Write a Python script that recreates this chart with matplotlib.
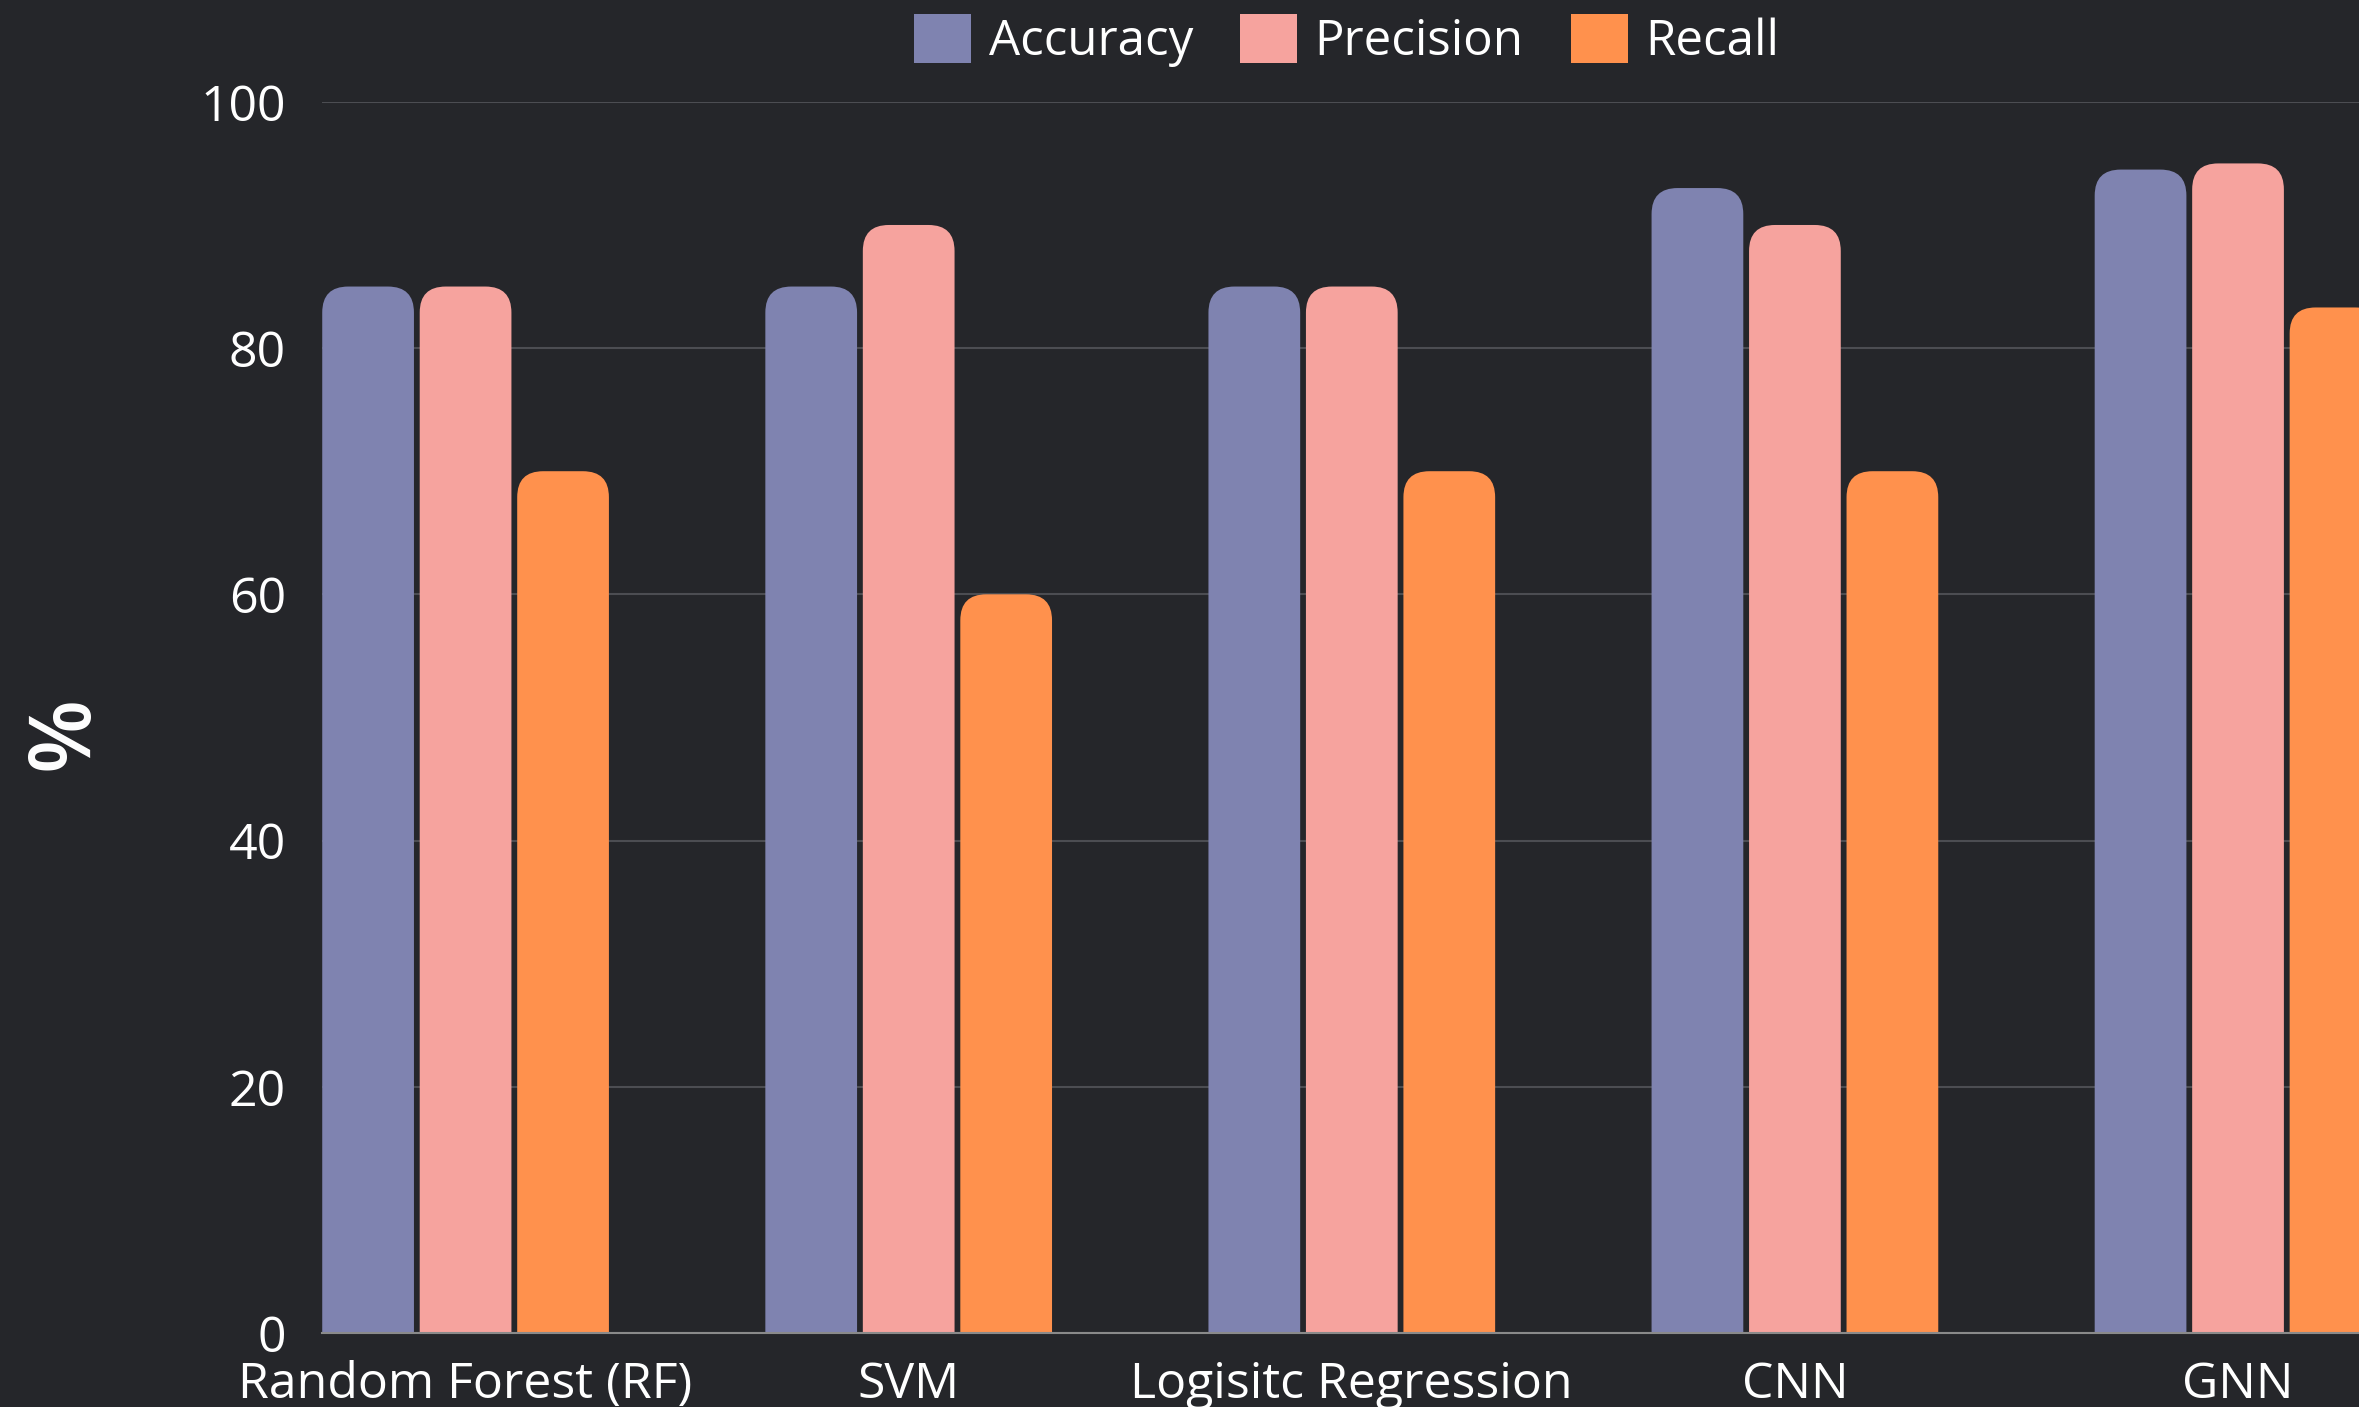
import numpy as np
import matplotlib.pyplot as plt
from matplotlib.patches import FancyBboxPatch, Patch

# data
models = ["Random Forest (RF)", "SVM", "Logisitc Regression", "CNN", "GNN"]
accuracy = [85, 85, 85, 93, 94.5]
precision = [85, 90, 85, 90, 95]
recall = [70, 60, 70, 70, 83.3]
metrics = ["Accuracy", "Precision", "Recall"]
yticks = [0, 20, 40, 60, 80, 100]

colors = ["#7f83b0", "#f6a39e", "#ff914d"]
bg = "#25262a"

plt.rcParams['font.family'] = ['Open Sans', 'DejaVu Sans']

W, H = 2359, 1407
fig = plt.figure(figsize=(W / 100, H / 100), dpi=100, facecolor=bg)
ax_rect = [0.1365, 0.0526, 0.8635, 0.875]
ax = fig.add_axes(ax_rect)
ax.set_facecolor(bg)

x = np.arange(len(models))
width = 0.207
offsets = [-0.22, 0, 0.22]
xlim = (-0.324, 4.273)
ylim = (0, 100)
ax.set_xlim(*xlim)
ax.set_ylim(*ylim)

# rounded tops: corner radius in pixels converted to data units
px_x = ax_rect[2] * W / (xlim[1] - xlim[0])
px_y = ax_rect[3] * H / (ylim[1] - ylim[0])
radius = 26
rx = radius / px_x
ry = radius / px_y

for series, off, c in zip([accuracy, precision, recall], offsets, colors):
    for xi, v in zip(x, series):
        p = FancyBboxPatch((xi + off - width / 2, -10), width, v + 10,
                           boxstyle=f"round,pad=0,rounding_size={rx}",
                           mutation_aspect=ry / rx, fc=c, ec='none', zorder=2)
        ax.add_patch(p)

ax.set_yticks(yticks)
ax.set_xticks(x)
ax.set_xticklabels(models)
ax.yaxis.grid(True, color='#4c4d52', lw=1.5)
ax.set_axisbelow(True)
for s in ['top', 'right', 'left']:
    ax.spines[s].set_visible(False)
ax.spines['bottom'].set_color('#8a8a8a')
ax.spines['bottom'].set_linewidth(1.5)
ax.tick_params(axis='both', length=0, labelsize=36, colors='white')
ax.tick_params(axis='y', pad=26)
ax.tick_params(axis='x', pad=20)

fig.text(66 / W, 1 - 733 / H, '%', rotation=90, fontsize=62, fontweight='semibold',
         color='white', ha='center', va='center')

handles = [Patch(facecolor=c, edgecolor='none') for c in colors]
ax.legend(handles, metrics, loc='lower center', bbox_to_anchor=(0.503, 1.0),
          ncol=3, frameon=False, fontsize=35.5, labelcolor='white',
          handlelength=1.16, handleheight=1.16, handletextpad=0.36,
          columnspacing=0.95, borderaxespad=0.3)

fig.savefig('out.png', dpi=100, facecolor=bg)
